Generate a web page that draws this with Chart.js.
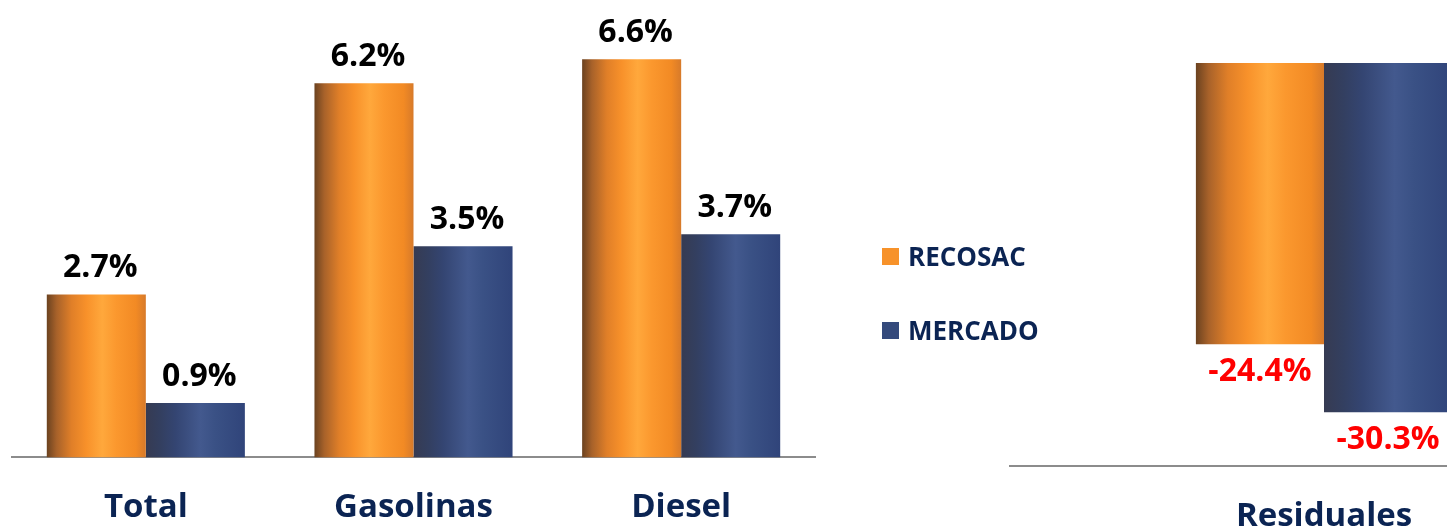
<!DOCTYPE html>
<html><head><meta charset="utf-8">
<script src="https://cdn.jsdelivr.net/npm/chart.js@4.4.1/dist/chart.umd.min.js"></script>
<style>
html,body{margin:0;padding:0;background:#fff;overflow:hidden;width:1447px;height:529px;}
#wrap{position:relative;width:1447px;height:529px;overflow:hidden;}
#c1{position:absolute;left:0;top:0;}
#c2{position:absolute;left:1000px;top:0;}
.leg{position:absolute;left:882px;height:36px;line-height:36px;font:bold 26px "Open Sans";color:#0b2453;display:flex;align-items:center;white-space:nowrap;}
.sw{width:17px;height:17px;margin-right:9px;}
</style></head>
<body><div id="wrap">
<canvas id="c1" width="830" height="559"></canvas>
<canvas id="c2" width="650" height="575"></canvas>
<div class="leg" style="top:238px"><span class="sw" style="background:#f7922a"></span><span id="l0"></span></div>
<div class="leg" style="top:312px"><span class="sw" style="background:#344a7c"></span><span id="l1"></span></div>
</div>
<script>
// ---- data ----
const seriesNames = ['RECOSAC', 'MERCADO'];
const categoriesLeft = ['Total', 'Gasolinas', 'Diesel'];
const recosacLeft = [2.7, 6.2, 6.6];
const mercadoLeft = [0.9, 3.5, 3.7];
const categoriesRight = ['Residuales'];
const recosacRight = [-24.4];
const mercadoRight = [-30.3];

document.getElementById('l0').textContent = seriesNames[0];
document.getElementById('l1').textContent = seriesNames[1];

const ORANGE_STOPS = [[0,'#6b4220'],[0.1,'#a8622a'],[0.25,'#e07f28'],[0.4,'#f8912a'],[0.56,'#ffa83c'],[0.7,'#fb982e'],[0.9,'#f28a24'],[1,'#d77a2a']];
const BLUE_STOPS = [[0,'#363b52'],[0.15,'#333f60'],[0.3,'#344572'],[0.55,'#43598e'],[0.7,'#3a5185'],[1,'#30447a']];
const NAVY = '#0b2453';
const FONT = '"Open Sans", sans-serif';

function gradFn(stops, fallback, catPct){
  return function(ctx){
    if (ctx.type !== 'data') return fallback;
    const chart = ctx.chart, ca = chart.chartArea, xs = chart.scales.x;
    if (!ca || !xs) return fallback;
    const n = chart.data.labels.length;
    const catW = (ca.right - ca.left) / n;
    const groupW = catW * catPct;
    const barW = groupW / chart.data.datasets.length;
    const center = xs.getPixelForValue(ctx.dataIndex);
    const left = center - groupW / 2 + ctx.datasetIndex * barW;
    const g = chart.ctx.createLinearGradient(left, 0, left + barW, 0);
    stops.forEach(s => g.addColorStop(s[0], s[1]));
    return g;
  };
}

const valueLabels = {
  id: 'valueLabels',
  afterDatasetsDraw(chart) {
    const c = chart.ctx; c.save();
    c.font = 'bold 32px ' + FONT; c.textAlign = 'center'; c.textBaseline = 'alphabetic';
    chart.data.datasets.forEach((ds, di) => {
      chart.getDatasetMeta(di).data.forEach((bar, i) => {
        const v = ds.data[i];
        const txt = v.toFixed(1) + '%';
        if (v >= 0) { c.fillStyle = '#000'; c.fillText(txt, bar.x + 4, bar.y - 17); }
        else { c.fillStyle = '#ff0000'; c.fillText(txt, bar.x, bar.y + 37); }
      });
    });
    c.restore();
  }
};

function makeChart(id, labels, d0, d1, catPct, yMin, yMax, pad, tickPad) {
  return new Chart(document.getElementById(id), {
    type: 'bar',
    data: {
      labels: labels,
      datasets: [
        { label: seriesNames[0], data: d0, backgroundColor: gradFn(ORANGE_STOPS, '#f7922a', catPct), borderWidth: 0 },
        { label: seriesNames[1], data: d1, backgroundColor: gradFn(BLUE_STOPS, '#344a7c', catPct), borderWidth: 0 }
      ]
    },
    options: {
      responsive: false, animation: false,
      layout: { padding: pad },
      datasets: { bar: { categoryPercentage: catPct, barPercentage: 1 } },
      plugins: { legend: { display: false }, tooltip: { enabled: false } },
      scales: {
        x: {
          grid: { display: false, drawTicks: false },
          border: { display: true, color: '#8c8c8c', width: 2 },
          ticks: { padding: tickPad, color: NAVY, font: { family: FONT, weight: 'bold', size: 33 } }
        },
        y: { display: false, min: yMin, max: yMax }
      }
    },
    plugins: [valueLabels]
  });
}

makeChart('c1', categoriesLeft, recosacLeft, mercadoLeft, 0.74, 0, 7, { left: 12, right: 15, top: 35, bottom: 2 }, 30);
makeChart('c2', categoriesRight, recosacRight, mercadoRight, 0.408, -35, 0, { left: 10, right: 12, top: 63, bottom: 9 }, 30);
</script>
</body></html>
